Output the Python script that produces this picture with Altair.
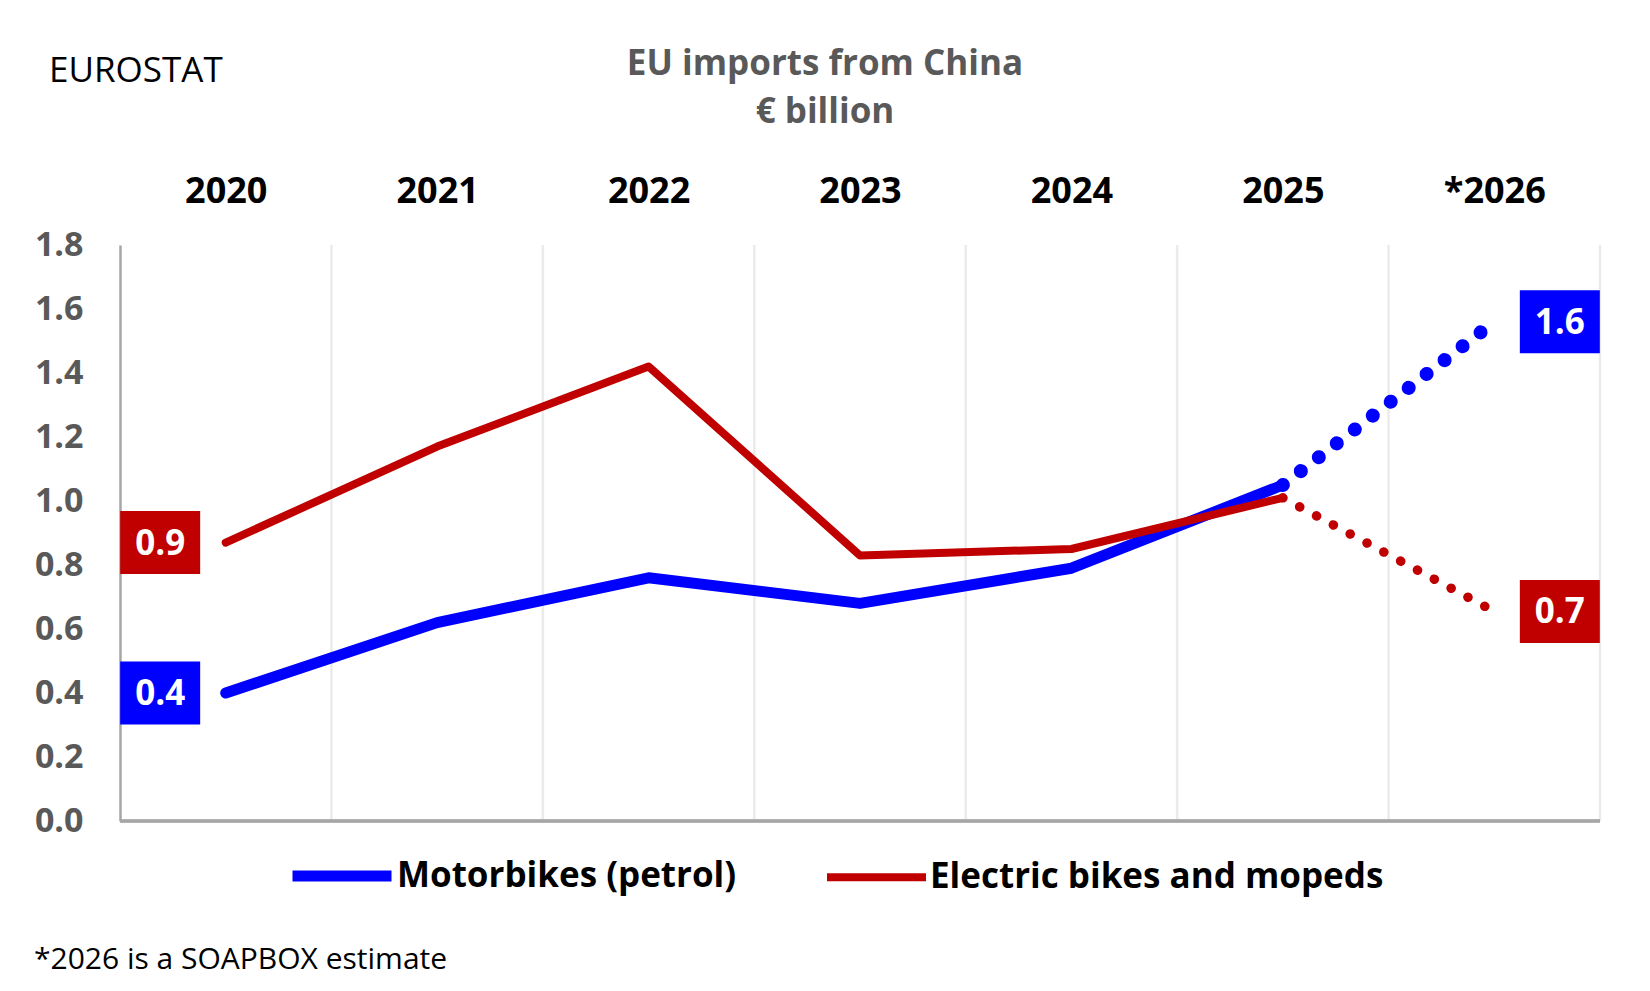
import altair as alt
import pandas as pd

years = ["2020", "2021", "2022", "2023", "2024", "2025", "*2026"]
motorbikes = [0.40, 0.62, 0.76, 0.68, 0.79, 1.05, 1.56]
electric = [0.87, 1.17, 1.42, 0.83, 0.85, 1.01, 0.655]
series_names = ["Motorbikes (petrol)", "Electric bikes and mopeds"]
series_colors = ["#0000ff", "#c00000"]
y_ticks = [0.0, 0.2, 0.4, 0.6, 0.8, 1.0, 1.2, 1.4, 1.6, 1.8]
title_lines = ["EU imports from China", "€ billion"]
source_text = ["EUROSTAT"]
footnote_text = ["*2026 is a SOAPBOX estimate"]

FONT = "Open Sans"
W, H = 1480, 576
LAST_ACTUAL = 5  # index of 2025
N = len(years)

rows = []
for name, vals in zip(series_names, [motorbikes, electric]):
    for i, (yr, v) in enumerate(zip(years, vals)):
        rows.append({"pos": i + 0.5, "year": yr, "series": name, "value": v, "idx": i})
df = pd.DataFrame(rows)

solid = df[df["idx"] <= LAST_ACTUAL]
dotted = df[df["idx"] >= LAST_ACTUAL]

# end labels (first and last point of each series)
lab = df[(df["idx"] == 0) | (df["idx"] == N - 1)].copy()
lab["lx"] = lab.apply(lambda r: r["pos"] - 0.31 if r["idx"] == 0 else r["pos"] + 0.31, axis=1)
lab["label"] = lab["value"].map(lambda v: f"{v + 1e-9:.1f}")

grid_df = pd.DataFrame({"g": list(range(1, N + 1))})

color_scale = alt.Scale(domain=series_names, range=series_colors)
width_scale = alt.Scale(domain=series_names, range=[11, 8])
x_scale = alt.Scale(domain=[0, N], nice=False, zero=False)
year_expr = "[" + ",".join(f"'{y}'" for y in years) + "][floor(datum.value)]"

x_enc = alt.X(
    "pos:Q",
    scale=x_scale,
    axis=alt.Axis(
        orient="top", values=[i + 0.5 for i in range(N)], labelExpr=year_expr,
        grid=False, ticks=False, domain=False, title=None,
        labelFont=FONT, labelFontSize=36, labelFontWeight="bold", labelColor="#000000",
        labelPadding=54, labelBaseline="middle",
    ),
)
y_enc = alt.Y(
    "value:Q",
    scale=alt.Scale(domain=[0, 1.8], nice=False),
    axis=alt.Axis(
        values=y_ticks, format=".1f", grid=False, ticks=False, domain=True,
        domainColor="#a6a6a6", domainWidth=2.5, title=None,
        labelFont=FONT, labelFontSize=34, labelFontWeight="bold", labelColor="#595959",
        labelPadding=37,
    ),
)

grid = alt.Chart(grid_df).mark_rule(color="#ebebeb", strokeWidth=2.5).encode(
    x=alt.X("g:Q", scale=x_scale)
)
baseline = alt.Chart(grid_df).mark_rule(color="#a6a6a6", strokeWidth=2.5).encode(
    y=alt.datum(0), x=alt.datum(0), x2=alt.datum(N)
)

legend_kw = dict(
    orient="none", legendX=167, legendY=576, direction="horizontal", title=None,
    symbolType="stroke", symbolSize=9800,
    labelFont=FONT, labelFontSize=35, labelFontWeight="bold", labelColor="#000000",
    labelOffset=0, columnPadding=74, labelLimit=700,
)

solid_layers = []
for name in series_names:
    solid_layers.append(
        alt.Chart(solid[solid["series"] == name]).mark_line(
            strokeCap="round", strokeJoin="round"
        ).encode(
            x=x_enc, y=y_enc,
            color=alt.Color("series:N", scale=color_scale, legend=alt.Legend(**legend_kw)),
            strokeWidth=alt.StrokeWidth("series:N", scale=width_scale, legend=alt.Legend(**legend_kw)),
            order="idx:Q",
        )
    )

dot_layers = []
for name, col, sw, gap in zip(series_names, series_colors, [14, 9.5], [22.6, 19]):
    dot_layers.append(
        alt.Chart(dotted[dotted["series"] == name]).mark_line(
            strokeWidth=sw, strokeCap="round", strokeDash=[0.1, gap], color=col
        ).encode(x="pos:Q", y="value:Q", order="idx:Q")
    )

boxes = alt.Chart(lab).mark_rect(width=80, height=63).encode(
    x="lx:Q", y="value:Q",
    fill=alt.Fill("series:N", scale=color_scale, legend=None),
)
box_text = alt.Chart(lab).mark_text(
    color="#ffffff", font=FONT, fontSize=35, fontWeight="bold", baseline="middle", dy=1
).encode(x="lx:Q", y="value:Q", text="label:N")

title_layers = []
for line, ty in zip(title_lines, [-181, -133]):
    title_layers.append(
        alt.Chart(pd.DataFrame({"t": [line]})).mark_text(
            align="center", baseline="middle", font=FONT, fontSize=35,
            fontWeight="bold", color="#595959"
        ).encode(x=alt.value(705), y=alt.value(ty), text="t:N")
    )

src = alt.Chart(pd.DataFrame({"t": source_text})).mark_text(
    align="left", baseline="middle", font=FONT, fontSize=35, color="#000000"
).encode(x=alt.value(-71), y=alt.value(-174), text="t:N")
foot = alt.Chart(pd.DataFrame({"t": footnote_text})).mark_text(
    align="left", baseline="middle", font=FONT, fontSize=30, color="#000000"
).encode(x=alt.value(-86), y=alt.value(715), text="t:N")

chart = alt.layer(
    grid, baseline, *solid_layers, *dot_layers, boxes, box_text, *title_layers, src, foot
).properties(
    width=W, height=H,
    autosize=alt.AutoSizeParams(type="none"),
    padding={"left": 112, "top": 237, "right": 40, "bottom": 165},
).configure_view(stroke=None)

chart.save("out.html", embed_options={"renderer": "svg", "actions": False})
